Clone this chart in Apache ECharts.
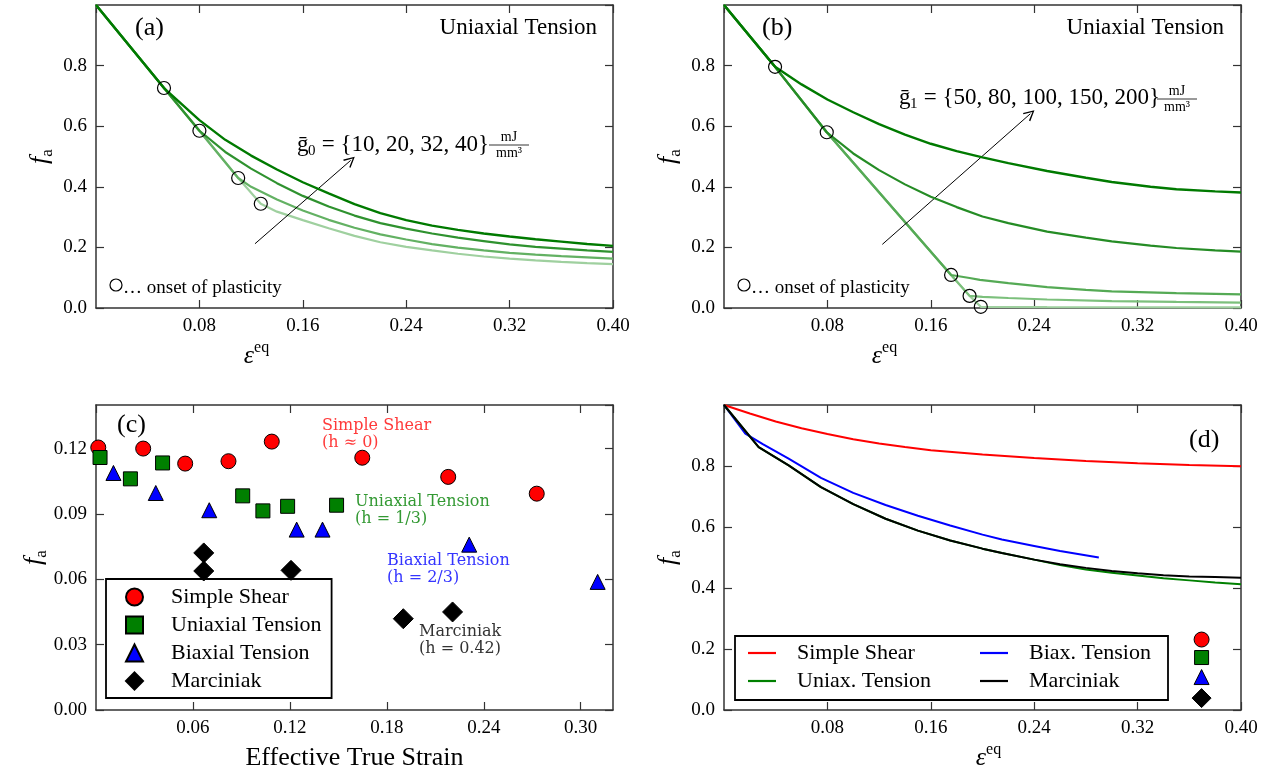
<!DOCTYPE html>
<html>
<head>
<meta charset="UTF-8">
<title>fa</title>
<script src="https://cdn.jsdelivr.net/npm/echarts/dist/echarts.min.js"></script>
<style>
  html, body { margin: 0; padding: 0; background: #fff; }
  #main { width: 1279px; height: 776px; }
</style>
</head>
<body>
<div id="main"></div>
<script>
// ---- (a) uniaxial tension, g0 = 10, 20, 32, 40 mJ/mm3
var aG10 = [[0,1.0],[0.0526,0.726],[0.08,0.585],[0.11,0.429],[0.1275,0.344],[0.14,0.318],[0.16,0.29],[0.18,0.263],[0.20,0.238],[0.22,0.217],[0.24,0.202],[0.26,0.19],[0.28,0.179],[0.30,0.17],[0.32,0.163],[0.34,0.157],[0.36,0.152],[0.38,0.148],[0.40,0.145]];
var aG20 = [[0,1.0],[0.0526,0.726],[0.08,0.585],[0.11,0.429],[0.12,0.40],[0.14,0.358],[0.16,0.322],[0.18,0.291],[0.20,0.265],[0.22,0.243],[0.24,0.226],[0.26,0.211],[0.28,0.199],[0.30,0.19],[0.32,0.182],[0.34,0.176],[0.36,0.171],[0.38,0.167],[0.40,0.163]];
var aG32 = [[0,1.0],[0.0526,0.726],[0.08,0.585],[0.10,0.515],[0.12,0.46],[0.14,0.412],[0.16,0.37],[0.18,0.335],[0.20,0.305],[0.22,0.28],[0.24,0.262],[0.26,0.246],[0.28,0.232],[0.30,0.221],[0.32,0.21],[0.34,0.202],[0.36,0.196],[0.38,0.19],[0.40,0.185]];
var aG40 = [[0,1.0],[0.0526,0.726],[0.08,0.62],[0.10,0.555],[0.12,0.503],[0.14,0.457],[0.16,0.415],[0.18,0.378],[0.20,0.343],[0.22,0.313],[0.24,0.29],[0.26,0.272],[0.28,0.258],[0.30,0.246],[0.32,0.236],[0.34,0.227],[0.36,0.219],[0.38,0.211],[0.40,0.205]];
var aOnset = [[0.0526,0.726],[0.08,0.585],[0.11,0.429],[0.1275,0.344]];
var aArrow = [[0.123,0.212],[0.197,0.487]];

// ---- (b) uniaxial tension, g1 = 50, 80, 100, 150, 200 mJ/mm3
var bG50  = [[0,1.0],[0.0395,0.796],[0.0795,0.58],[0.1757,0.109],[0.19,0.040],[0.1987,0.004],[0.25,0.003],[0.40,0.002]];
var bG80  = [[0,1.0],[0.0395,0.796],[0.0795,0.58],[0.1757,0.109],[0.19,0.040],[0.20,0.037],[0.22,0.033],[0.25,0.028],[0.30,0.023],[0.35,0.020],[0.40,0.018]];
var bG100 = [[0,1.0],[0.0395,0.796],[0.0795,0.58],[0.1757,0.109],[0.19,0.099],[0.198,0.093],[0.22,0.082],[0.25,0.069],[0.28,0.06],[0.30,0.055],[0.35,0.049],[0.40,0.045]];
var bG150 = [[0,1.0],[0.0395,0.796],[0.0795,0.58],[0.10,0.51],[0.12,0.455],[0.14,0.408],[0.16,0.367],[0.18,0.333],[0.20,0.302],[0.22,0.28],[0.25,0.252],[0.28,0.232],[0.30,0.22],[0.33,0.206],[0.35,0.198],[0.38,0.19],[0.40,0.186]];
var bG200 = [[0,1.0],[0.0395,0.796],[0.06,0.738],[0.08,0.688],[0.10,0.646],[0.12,0.607],[0.14,0.572],[0.16,0.542],[0.18,0.518],[0.20,0.497],[0.22,0.478],[0.25,0.452],[0.28,0.43],[0.30,0.416],[0.33,0.40],[0.35,0.392],[0.38,0.385],[0.40,0.381]];
var bOnset = [[0.0395,0.796],[0.0795,0.58],[0.1757,0.109],[0.19,0.040],[0.1987,0.004]];
var bArrow = [[0.1225,0.21],[0.237,0.641]];

// ---- (c) f_a at failure vs effective true strain
var cShear = [[0.0014,0.1205],[0.0292,0.12],[0.0552,0.1131],[0.082,0.1142],[0.1088,0.1232],[0.1648,0.1158],[0.218,0.107],[0.2728,0.0993]];
var cUniax = [[0.0025,0.1159],[0.0213,0.1061],[0.0412,0.1134],[0.0908,0.0983],[0.1033,0.0914],[0.1186,0.0935],[0.1489,0.094]];
var cBiax  = [[0.0108,0.1088],[0.037,0.0996],[0.0701,0.0917],[0.1242,0.0828],[0.1402,0.0828],[0.231,0.0759],[0.3105,0.0588]];
var cMarc  = [[0.0667,0.0721],[0.0667,0.0638],[0.1207,0.0641],[0.1902,0.0419],[0.2207,0.045]];

// ---- (d) model curves
var dShear = [[0,1.0],[0.02,0.972],[0.04,0.946],[0.06,0.924],[0.08,0.905],[0.10,0.888],[0.12,0.874],[0.14,0.862],[0.16,0.852],[0.20,0.838],[0.24,0.826],[0.28,0.816],[0.32,0.809],[0.36,0.803],[0.40,0.799]];
var dBiax  = [[0,1.0],[0.0165,0.906],[0.03,0.872],[0.05,0.824],[0.075,0.761],[0.10,0.712],[0.125,0.672],[0.15,0.637],[0.175,0.605],[0.20,0.575],[0.215,0.559],[0.24,0.538],[0.26,0.521],[0.29,0.50]];
var dUniax = [[0,1.0],[0.0268,0.862],[0.05,0.802],[0.075,0.731],[0.10,0.675],[0.125,0.627],[0.15,0.588],[0.175,0.556],[0.20,0.529],[0.215,0.515],[0.24,0.493],[0.26,0.475],[0.28,0.461],[0.30,0.45],[0.32,0.441],[0.34,0.432],[0.36,0.425],[0.38,0.418],[0.40,0.412]];
var dMarc  = [[0,1.0],[0.0268,0.862],[0.05,0.802],[0.075,0.731],[0.10,0.675],[0.125,0.627],[0.15,0.588],[0.175,0.556],[0.20,0.529],[0.215,0.515],[0.24,0.493],[0.26,0.478],[0.28,0.466],[0.30,0.456],[0.32,0.448],[0.34,0.442],[0.36,0.438],[0.38,0.436],[0.40,0.434]];
var dMarkX = 0.3695;
var dMarkY = [0.231, 0.172, 0.108, 0.039];

var FONT = 'Liberation Serif, DejaVu Serif, serif';
var FRAME = '#333';
var ARROW = 'path://M0,10 L5,0 L10,10 L8.8,10.6 L5,2.6 L1.2,10.6 Z';

var chart = echarts.init(document.getElementById('main'), null, {renderer: 'canvas'});

var grids = [
    {left: 96, top: 5, width: 517, height: 303},
    {left: 724, top: 5, width: 517, height: 303},
    {left: 96, top: 405, width: 517, height: 305},
    {left: 724, top: 405, width: 517, height: 305}
];
grids.forEach(function (g) { g.outerBoundsMode = 'none'; });

function axis(grid, pos, min, max, step, labels) {
    return {
        type: 'value', gridIndex: grid, position: pos, min: min, max: max, interval: step,
        axisLine: {show: true, onZero: false, lineStyle: {color: FRAME, width: 1.5}},
        axisTick: {show: true, inside: true, length: 8, lineStyle: {color: FRAME, width: 1.2}},
        axisLabel: labels ? Object.assign({color: '#000', fontFamily: FONT, fontSize: 19, margin: 9}, labels) : {show: false},
        splitLine: {show: false}
    };
}
var f1 = function (v) { return v.toFixed(1); };
var f2 = function (v) { return v.toFixed(2); };

var epsName = '{e|ε}{s|eq}';
var epsRich = {
    e: {fontFamily: FONT, fontStyle: 'italic', fontSize: 26, color: '#000'},
    s: {fontFamily: FONT, fontSize: 16, color: '#000', padding: [0, 0, 16, 0]}
};
var faName = '{f|f}{a|a}';
var faRich = {
    f: {fontFamily: FONT, fontStyle: 'italic', fontSize: 26, color: '#000'},
    a: {fontFamily: FONT, fontSize: 17, color: '#000', padding: [14, 0, 0, 0]}
};

var xAxes = [], yAxes = [];
[0, 1, 3].forEach(function (i) {
    xAxes[i] = axis(i, 'bottom', 0, 0.4, 0.08, {formatter: f2, showMinLabel: false});
    yAxes[i] = axis(i, 'left', 0, 1.0, 0.2, {formatter: f1, showMaxLabel: false});
    yAxes[i].name = faName;
    yAxes[i].nameLocation = 'middle';
    yAxes[i].nameGap = 40;
    yAxes[i].nameTextStyle = {rich: faRich};
    xAxes[i].name = epsName;
    xAxes[i].nameLocation = 'middle';
    xAxes[i].nameGap = 32;
    xAxes[i].nameTextStyle = {rich: epsRich, padding: i === 3 ? [0, 0, 0, 12] : [0, 196, 0, 0]};
});
xAxes[2] = axis(2, 'bottom', 0, 0.32, 0.06, {formatter: f2, showMinLabel: false, showMaxLabel: false});
xAxes[2].name = 'Effective True Strain';
xAxes[2].nameLocation = 'middle';
xAxes[2].nameGap = 35;
xAxes[2].nameTextStyle = {fontFamily: FONT, fontSize: 26, color: '#000'};
yAxes[2] = axis(2, 'left', 0, 0.14, 0.03, {formatter: f2, showMaxLabel: false});
yAxes[2].name = faName;
yAxes[2].nameLocation = 'middle';
yAxes[2].nameGap = 40;
yAxes[2].nameTextStyle = {rich: faRich};
// mirrored frame axes (top / right)
[0, 1, 3].forEach(function (i) {
    xAxes[4 + i] = axis(i, 'top', 0, 0.4, 0.08, null);
    yAxes[4 + i] = axis(i, 'right', 0, 1.0, 0.2, null);
});
xAxes[6] = axis(2, 'top', 0, 0.32, 0.06, null);
yAxes[6] = axis(2, 'right', 0, 0.14, 0.03, null);

function curve(name, data, g, color, width, z) {
    return {
        name: name, type: 'line', xAxisIndex: g, yAxisIndex: g, data: data,
        symbol: 'none', color: color, lineStyle: {color: color, width: width},
        z: z, silent: true, animation: false
    };
}
function onsets(data, g, arrow) {
    return {
        type: 'scatter', xAxisIndex: g, yAxisIndex: g, data: data, symbol: 'circle', symbolSize: 13,
        itemStyle: {color: 'rgba(0,0,0,0)', borderColor: '#000', borderWidth: 1.2, opacity: 1},
        z: 10, silent: true, animation: false,
        markLine: {
            silent: true, animation: false, symbol: ['none', ARROW], symbolSize: 11,
            label: {show: false}, lineStyle: {color: '#000', width: 1, type: 'solid', opacity: 1},
            emphasis: {disabled: true},
            data: [[{coord: arrow[0]}, {coord: arrow[1]}]]
        }
    };
}
function dots(name, data, sym, size, color) {
    return {
        name: name, type: 'scatter', xAxisIndex: 2, yAxisIndex: 2, data: data,
        symbol: sym, symbolSize: size, silent: true, animation: false, z: 5,
        itemStyle: {color: color, borderColor: '#000', borderWidth: 1, opacity: 1}
    };
}

var series = [
    curve('a10', aG10, 0, '#9fd09f', 2.2, 2),
    curve('a20', aG20, 0, '#63b163', 2.2, 3),
    curve('a32', aG32, 0, '#2f922f', 2.2, 4),
    curve('a40', aG40, 0, '#007a00', 2.4, 5),
    onsets(aOnset, 0, aArrow),

    curve('b50', bG50, 1, '#9fd09f', 2.2, 2),
    curve('b80', bG80, 1, '#7cc07c', 2.2, 3),
    curve('b100', bG100, 1, '#55aa55', 2.2, 4),
    curve('b150', bG150, 1, '#258c25', 2.2, 5),
    curve('b200', bG200, 1, '#007a00', 2.4, 6),
    onsets(bOnset, 1, bArrow),

    dots('Simple Shear', cShear, 'circle', 15, '#ff0000'),
    dots('Uniaxial Tension', cUniax, 'rect', 14, '#007f00'),
    dots('Biaxial Tension', cBiax, 'triangle', 15, '#0000ff'),
    dots('Marciniak', cMarc, 'diamond', 20, '#000000'),

    curve('d:Simple Shear', dShear, 3, '#ff0000', 2, 3),
    curve('d:Biax. Tension', dBiax, 3, '#0000ff', 2, 3),
    curve('d:Uniax. Tension', dUniax, 3, '#008000', 2, 3),
    curve('d:Marciniak', dMarc, 3, '#000000', 2, 4),
    {
        type: 'scatter', xAxisIndex: 3, yAxisIndex: 3, silent: true, animation: false,
        data: dMarkY.map(function (y, i) {
            return {
                value: [dMarkX, y],
                symbol: ['circle', 'rect', 'triangle', 'diamond'][i],
                symbolSize: [15, 14, 15, 19][i],
                itemStyle: {color: ['#ff0000', '#007f00', '#0000ff', '#000'][i], borderColor: '#000', borderWidth: 1, opacity: 1}
            };
        })
    }
];

function txt(s, x, y, size, opts) {
    return {
        type: 'text', silent: true, z: 20, x: x, y: y,
        style: Object.assign({
            text: s, fontFamily: FONT, fontSize: size, fill: '#000',
            textAlign: 'left', textVerticalAlign: 'middle'
        }, opts || {})
    };
}
function frac(cx, cy) {
    return [
        txt('mJ', cx, cy - 8, 14, {textAlign: 'center'}),
        {type: 'line', silent: true, z: 20, shape: {x1: cx - 20, y1: cy, x2: cx + 20, y2: cy}, style: {stroke: '#000', lineWidth: 0.8}},
        txt('mm³', cx, cy + 8, 14, {textAlign: 'center'})
    ];
}
var SERIF2 = 'DejaVu Serif, serif';
var graphic = [
    txt('(a)', 135, 28, 26),
    txt('Uniaxial Tension', 597, 28, 23, {textAlign: 'right'}),
    {type: 'circle', silent: true, z: 20, shape: {cx: 116, cy: 285, r: 6}, style: {fill: 'none', stroke: '#000', lineWidth: 1.2}},
    txt('… onset of plasticity', 123, 288, 19),
    txt('ḡ', 297, 145, 23),
    txt('0', 308, 151, 15),
    txt(' = {10, 20, 32, 40}', 316, 145, 23),

    txt('(b)', 762, 28, 26),
    txt('Uniaxial Tension', 1224, 28, 23, {textAlign: 'right'}),
    {type: 'circle', silent: true, z: 20, shape: {cx: 744, cy: 285, r: 6}, style: {fill: 'none', stroke: '#000', lineWidth: 1.2}},
    txt('… onset of plasticity', 751, 288, 19),
    txt('ḡ', 899, 98, 23),
    txt('1', 910, 104, 15),
    txt(' = {50, 80, 100, 150, 200}', 918, 98, 23),

    txt('(c)', 117, 425, 26),
    txt('Simple Shear\n(h ≈ 0)', 322, 417, 16, {fontFamily: SERIF2, fill: '#ff3a3a', lineHeight: 17, textVerticalAlign: 'top'}),
    txt('Uniaxial Tension\n(h = 1/3)', 355, 493.5, 16, {fontFamily: SERIF2, fill: '#339933', lineHeight: 17, textVerticalAlign: 'top'}),
    txt('Biaxial Tension\n(h = 2/3)', 387, 552.5, 16, {fontFamily: SERIF2, fill: '#3535ff', lineHeight: 17, textVerticalAlign: 'top'}),
    txt('Marciniak\n(h = 0.42)', 419, 623.5, 16, {fontFamily: SERIF2, fill: '#333', lineHeight: 17, textVerticalAlign: 'top'}),

    txt('(d)', 1189, 440, 26),
    {type: 'rect', silent: true, z: 20, shape: {x: 735, y: 636, width: 433, height: 64}, style: {fill: 'none', stroke: '#000', lineWidth: 1.8}}
].concat(frac(509, 145), frac(1177, 99));

var option = {
    backgroundColor: '#fff',
    animation: false,
    grid: grids,
    xAxis: xAxes,
    yAxis: yAxes,
    legend: [
        {
            data: ['Simple Shear', 'Uniaxial Tension', 'Biaxial Tension', 'Marciniak'],
            orient: 'vertical', left: 106, top: 579, selectedMode: false,
            itemWidth: 17, itemHeight: 17, itemGap: 6,
            padding: [7, 10, 6, 19],
            borderColor: '#000', borderWidth: 1.8, backgroundColor: '#fff',
            itemStyle: {opacity: 1},
            textStyle: {fontFamily: FONT, fontSize: 22, color: '#000', lineHeight: 22, padding: [0, 0, 0, 23]}
        },
        {
            data: ['d:Simple Shear', 'd:Biax. Tension', 'd:Uniax. Tension', 'd:Marciniak'],
            orient: 'horizontal', left: 748, top: 642, width: 470, selectedMode: false,
            icon: 'rect', itemWidth: 28, itemHeight: 2.2, itemGap: 6,
            padding: 0,
            formatter: function (n) { return n.replace('d:', ''); },
            textStyle: {fontFamily: FONT, fontSize: 22, color: '#000', lineHeight: 22, width: 177, padding: [0, 0, 0, 16]}
        }
    ],
    graphic: graphic,
    series: series
};
chart.setOption(option);
</script>
</body>
</html>
